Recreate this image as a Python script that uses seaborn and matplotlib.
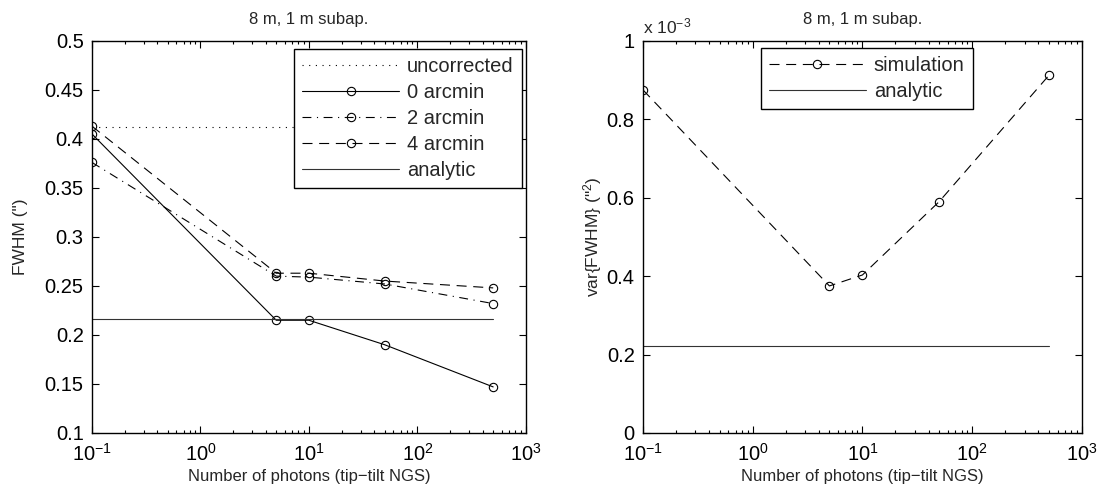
import numpy as np
import pandas as pd
import seaborn as sns
import matplotlib
matplotlib.use("Agg")
import matplotlib.pyplot as plt
from matplotlib.ticker import FuncFormatter, LogLocator, NullFormatter

# photons on the tip-tilt NGS
photons = [0.1, 5, 10, 50, 500]

# FWHM (arcsec) - left panel
fwhm_uncorrected = 0.412
fwhm_0 = [0.405, 0.215, 0.215, 0.190, 0.147]
fwhm_2 = [0.376, 0.260, 0.259, 0.252, 0.232]
fwhm_4 = [0.413, 0.263, 0.263, 0.255, 0.248]
fwhm_analytic = 0.216

# var{FWHM} in units of 1e-3 arcsec^2 - right panel
var_sim = [0.875, 0.375, 0.403, 0.590, 0.912]
var_analytic = 0.222

title = "8 m, 1 m subap."
xlabel = "Number of photons (tip\u2212tilt NGS)"

sns.set_style("white")
plt.rcParams["font.family"] = ["Liberation Sans", "DejaVu Sans"]
plt.rcParams["font.size"] = 12
plt.rcParams["mathtext.fontset"] = "custom"
plt.rcParams["mathtext.rm"] = "Liberation Sans"
plt.rcParams["mathtext.it"] = "Liberation Sans"

fig = plt.figure(figsize=(11.04, 5.04), dpi=100)
ax1 = fig.add_axes([0.0833, 0.1409, 0.393, 0.778])
ax2 = fig.add_axes([0.5824, 0.1409, 0.3976, 0.778])

lw = 0.8
mk = dict(marker="o", markersize=6, markerfacecolor="none", markeredgecolor="k",
          markeredgewidth=0.8)

x_ends = [photons[0], photons[-1]]

# left panel
sns.lineplot(x=x_ends, y=[fwhm_uncorrected] * 2, ax=ax1, color="k", lw=lw,
             linestyle=(0, (1, 5)), label="uncorrected")
sns.lineplot(x=photons, y=fwhm_0, ax=ax1, color="k", lw=lw, linestyle="-",
             label="0 arcmin", **mk)
sns.lineplot(x=photons, y=fwhm_2, ax=ax1, color="k", lw=lw,
             linestyle=(0, (8, 5, 1, 5)), label="2 arcmin", **mk)
sns.lineplot(x=photons, y=fwhm_4, ax=ax1, color="k", lw=lw,
             linestyle=(0, (9, 6)), label="4 arcmin", **mk)
sns.lineplot(x=x_ends, y=[fwhm_analytic] * 2, ax=ax1, color="#333333", lw=lw,
             linestyle="-", label="analytic")
ax1.set_ylim(0.1, 0.5)
ax1.set_yticks(np.arange(0.1, 0.501, 0.05))
ax1.set_ylabel('FWHM (")', fontsize=12.5, labelpad=12)

# right panel
sns.lineplot(x=photons, y=var_sim, ax=ax2, color="k", lw=lw,
             linestyle=(0, (9, 6)), label="simulation", **mk)
sns.lineplot(x=x_ends, y=[var_analytic] * 2, ax=ax2, color="#333333", lw=lw,
             linestyle="-", label="analytic")
ax2.set_ylim(0, 1)
ax2.set_yticks(np.arange(0, 1.01, 0.2))
ax2.set_ylabel('var{FWHM} ("$^2$)', fontsize=12.5, labelpad=2)
ax2.text(0.0, 1.012, r"x 10$^{-3}$", transform=ax2.transAxes, ha="left",
         va="bottom", fontsize=12.5)

for ax in (ax1, ax2):
    ax.set_xscale("log")
    ax.set_xlim(0.1, 1000)
    ax.xaxis.set_major_locator(LogLocator(base=10, numticks=10))
    ax.xaxis.set_minor_locator(LogLocator(base=10, subs=np.arange(2, 10), numticks=20))
    ax.xaxis.set_minor_formatter(NullFormatter())
    ax.yaxis.set_major_formatter(FuncFormatter(lambda v, p: f"{v:g}"))
    ax.set_xlabel(xlabel, fontsize=12, labelpad=3)
    ax.set_title(title, fontsize=12, pad=12)
    ax.tick_params(which="both", direction="in", top=True, right=True,
                   bottom=True, left=True, colors="k", labelsize=14.5)
    ax.tick_params(axis="y", pad=6)
    ax.tick_params(axis="x", pad=7)
    ax.tick_params(which="major", length=5, width=0.8)
    ax.tick_params(which="minor", length=2.5, width=0.8)
    for s in ax.spines.values():
        s.set_visible(True)
        s.set_color("k")
        s.set_linewidth(1.0)
    ax.grid(False)

leg_kw = dict(handlelength=4.8, fontsize=14.5, fancybox=False, framealpha=1,
              edgecolor="k", borderaxespad=0, labelspacing=0.35,
              handletextpad=0.4, borderpad=0.4)
leg1 = ax1.legend(loc="upper right", bbox_to_anchor=(1 - 4 / 434, 1 - 8 / 392),
                  **leg_kw)
leg2 = ax2.legend(loc="upper center", bbox_to_anchor=(0.51, 1 - 7 / 392),
                  **leg_kw)
for leg in (leg1, leg2):
    leg.get_frame().set_linewidth(1.0)

fig.savefig("out.png", dpi=100)
